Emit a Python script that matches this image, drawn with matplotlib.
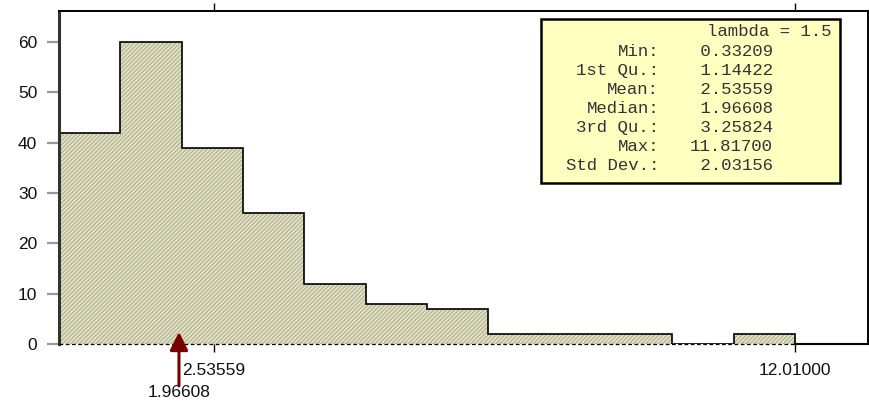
import matplotlib.pyplot as plt

# Histogram of the simulated sample (bins of width 1)
bin_edges = [0.01, 1.01, 2.01, 3.01, 4.01, 5.01, 6.01, 7.01, 8.01, 9.01, 10.01, 11.01, 12.01]
counts = [42, 60, 39, 26, 12, 8, 7, 2, 2, 2, 0, 2]

# Summary statistics
stat_names = ["Min:", "1st Qu.:", "Mean:", "Median:", "3rd Qu.:", "Max:", "Std Dev.:"]
stat_values = [0.33209, 1.14422, 2.53559, 1.96608, 3.25824, 11.81700, 2.03156]
lam = 1.5
mean_val = 2.53559
median_val = 1.96608
x_max = 12.01

plt.rcParams['hatch.color'] = '#ececb4'
plt.rcParams['hatch.linewidth'] = 1.0

fig = plt.figure(figsize=(8.69, 4.03), dpi=100)
ax = fig.add_axes([0.0679, 0.1464, 0.9309, 0.8263])

widths = [b - a for a, b in zip(bin_edges[:-1], bin_edges[1:])]
ax.bar(bin_edges[:-1], counts, width=widths, align='edge', color='#b6b6ae',
       edgecolor='#ececb4', linewidth=0, hatch='////////', zorder=1)
ax.stairs(counts, bin_edges, color='black', linewidth=1.2, zorder=2)
ax.plot([bin_edges[0], bin_edges[-1]], [0, 0], color='black', lw=0.9,
        dashes=(3, 2), zorder=3, clip_on=False)
ax.plot([bin_edges[-1], 13.2], [0, 0], color='black', lw=1.5, zorder=3,
        clip_on=False)

ax.set_xlim(0.01, 13.2)
ax.set_ylim(0, 66.2)

# frame
ax.spines['bottom'].set_visible(False)
ax.spines['left'].set_color('#333333')
ax.spines['left'].set_linewidth(2.2)
for s in ('top', 'right'):
    ax.spines[s].set_linewidth(1.4)

# axes ticks
ax.set_yticks([0, 10, 20, 30, 40, 50, 60])
ax.tick_params(axis='y', length=8.6, width=1.6, color='#999999', pad=7,
               labelsize=12.5)
ax.set_xticks([mean_val, x_max])
ax.set_xticklabels([f"{mean_val:.5f}", f"{x_max:.5f}"])
ax.tick_params(axis='x', length=5.8, width=1.0, color='black', pad=8,
               labelsize=12.5, top=True, direction='out')
for lab in ax.get_xticklabels() + ax.get_yticklabels():
    lab.set_family('Liberation Sans')
    lab.set_color('#111111')

# median arrow
ax.annotate('', xy=(median_val, 2.4), xytext=(median_val, -0.125),
            xycoords='data', textcoords=('data', 'axes fraction'),
            arrowprops=dict(arrowstyle='-|>,head_length=1.1,head_width=0.55',
                            color='#7a0000', lw=2.2, shrinkA=0, shrinkB=0),
            annotation_clip=False, zorder=5)
ax.text(median_val, -0.147, f"{median_val:.5f}", transform=ax.get_xaxis_transform(),
        ha='center', va='center', fontsize=12.5, family='Liberation Sans',
        color='#111111', clip_on=False)

# statistics box
box = plt.Rectangle((0.596, 0.4835), 0.369, 0.4925, transform=ax.transAxes,
                    facecolor='#ffffc0', edgecolor='black', linewidth=1.8, zorder=6)
ax.add_patch(box)
mono = dict(family='Liberation Mono', fontsize=12.5, color='#333333',
            transform=ax.transAxes, va='center', zorder=7)
ax.text(0.955, 0.9375, f"lambda = {lam}", ha='right', **mono)
for i, (name, val) in enumerate(zip(stat_names, stat_values)):
    y = 0.877 - i * 0.0568
    ax.text(0.742, y, name, ha='right', **mono)
    ax.text(0.882, y, f"{val:8.5f}", ha='right', **mono)

fig.savefig('out.png', dpi=100)
